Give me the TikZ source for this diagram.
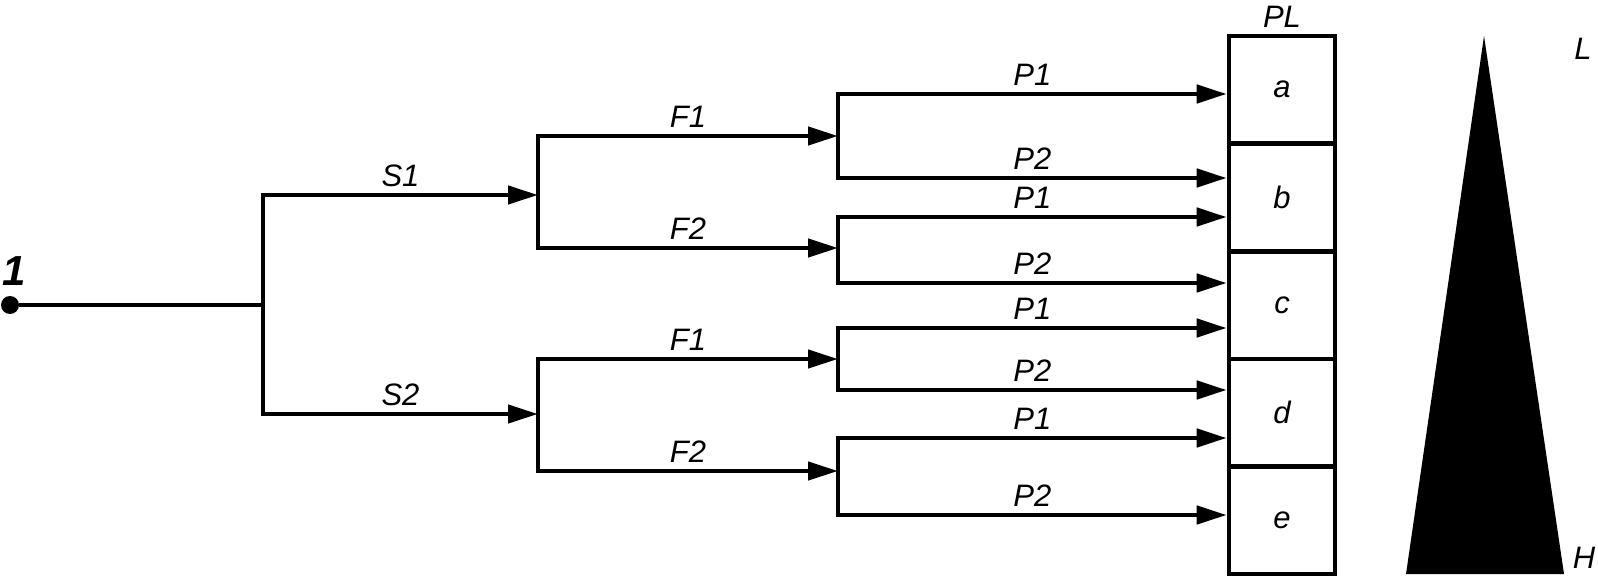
\documentclass[tikz,border=0pt]{standalone}
\usepackage{fontspec}
\setmainfont{Liberation Sans}
\usetikzlibrary{arrows.meta}
\begin{document}
\begin{tikzpicture}[x=0.5pt,y=-0.5pt,
  line/.style={line width=2.3pt},
  arr/.style={line width=2.3pt,-{Triangle[length=15pt,width=9pt]}},
  txt/.style={font=\fontsize{15.5}{17}\selectfont\itshape},
  lab/.style={txt,inner sep=1pt,above=2pt},
  cell/.style={draw,line width=2.3pt,minimum width=53pt,minimum height=53.8pt,inner sep=0pt,txt}
]
\useasboundingbox (0,0) rectangle (1598,577);
% column of cells
\node[cell] (a) at (1282,89.8) {a};
\node[cell] (b) at (1282,197.4) {b};
\node[cell] (c) at (1282,305) {c};
\node[cell] (d) at (1282,412.6) {d};
\node[cell] (e) at (1282,520.2) {e};
\node[lab] (pl) at (a.north) {PL};
% start point
\node[circle,fill,inner sep=0pt,minimum size=9pt] (n1) at (10,305) {};
\node[font=\fontsize{21}{24}\selectfont\bfseries\itshape,inner sep=0pt] (one) at (14,271) {1};
% forks
\coordinate (j0) at (263,305);
\coordinate (s1) at (538,195);
\coordinate (s2) at (538,414);
\coordinate (f1a) at (838,136);
\coordinate (f2a) at (838,248);
\coordinate (f1b) at (838,359);
\coordinate (f2b) at (838,471);
\draw[line] (n1) -- (j0);
\draw[arr] (j0) |- (s1) node[lab,pos=0.75] (ls1) {S1};
\draw[arr] (j0) |- (s2) node[lab,pos=0.75] (ls2) {S2};
\draw[arr] (s1) |- (f1a) node[lab,pos=0.75] (lf1a) {F1};
\draw[arr] (s1) |- (f2a) node[lab,pos=0.75] (lf2a) {F2};
\draw[arr] (s2) |- (f1b) node[lab,pos=0.75] (lf1b) {F1};
\draw[arr] (s2) |- (f2b) node[lab,pos=0.75] (lf2b) {F2};
\draw[arr] (f1a) |- (a.west |- 0,94) node[lab,pos=0.75] (p1) {P1};
\draw[arr] (f1a) |- (a.west |- 0,178) node[lab,pos=0.75] (p2) {P2};
\draw[arr] (f2a) |- (a.west |- 0,217) node[lab,pos=0.75] (p3) {P1};
\draw[arr] (f2a) |- (a.west |- 0,283) node[lab,pos=0.75] (p4) {P2};
\draw[arr] (f1b) |- (a.west |- 0,328) node[lab,pos=0.75] (p5) {P1};
\draw[arr] (f1b) |- (a.west |- 0,390) node[lab,pos=0.75] (p6) {P2};
\draw[arr] (f2b) |- (a.west |- 0,438) node[lab,pos=0.75] (p7) {P1};
\draw[arr] (f2b) |- (a.west |- 0,515) node[lab,pos=0.75] (p8) {P2};
% triangle scale
\fill (1484,36) -- (1564,574) -- (1406,574) -- cycle;
\node[txt,inner sep=0pt] (L) at (1583,49) {L};
\node[txt,inner sep=0pt] (H) at (1584,558) {H};
\end{tikzpicture}
\end{document}
